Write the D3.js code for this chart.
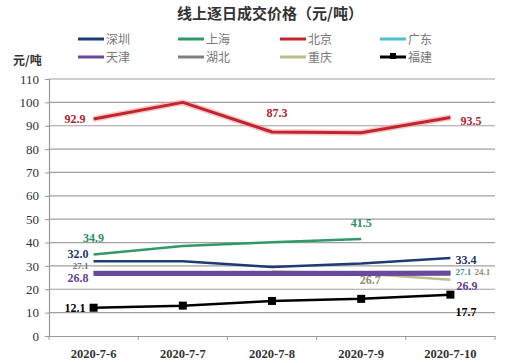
<!DOCTYPE html>
<html><head><meta charset="utf-8">
<script src="https://cdn.jsdelivr.net/npm/d3@7"></script>
<style>
html,body{margin:0;padding:0;background:#fff;}
svg{display:block;}
</style></head>
<body>
<svg id="c" width="509" height="363"></svg>
<script>
const categories = ["2020-7-6","2020-7-7","2020-7-8","2020-7-9","2020-7-10"];
const yTicks = [0,10,20,30,40,50,60,70,80,90,100,110];
const seriesNames = ["深圳","上海","北京","广东","天津","湖北","重庆","福建"];
const seriesColors = ["#1f3b73","#2f9a68","#c0262c","#4cc0cf","#6b479e","#7d7d86","#bdbd8a","#000000"];
const shenzhen = [32.0, 32.0, 29.5, 31.0, 33.4];
const shanghai = [34.9, 38.5, 40.1, 41.5, null];
const beijing  = [92.9, 100.0, 87.3, 87.0, 93.5];
const guangdong= [null, null, 26.3, 27.0, 27.1];
const tianjin  = [26.8, 26.8, 26.8, 26.8, 26.9];
const hubei    = [27.1, 27.1, 27.1, 27.1, 27.1];
const chongqing= [null, null, 27.6, 26.7, 24.1];
const fujian   = [12.1, 13.0, 15.0, 15.9, 17.7];
const seriesValues = [shenzhen, shanghai, beijing, guangdong, tianjin, hubei, chongqing, fujian];
const seriesWidths = [2.5, 2.5, 3, 2.5, 5, 4, 2.5, 2.5];
// value labels: [series index, category index, text, dx, dy, anchor, font size]
const valueLabels = [
  [2,0,"92.9",-8,4,"end",12],[2,2,"87.3",5,-15,"middle",12],[2,4,"93.5",10,7,"start",12],
  [1,0,"34.9",0,-12,"middle",12],[1,3,"41.5",0,-12,"middle",12],
  [0,0,"32.0",-5,-3,"end",12],[5,0,"27.1",-5,-4,"end",9],[4,0,"26.8",-5,9,"end",12],
  [0,4,"33.4",5,6,"start",12],[3,4,"27.1",5,2.5,"start",9],[6,4,"24.1",24,-4.5,"start",9],[4,4,"26.9",6,17,"start",12],
  [6,3,"26.7",9,10,"middle",12],
  [7,0,"12.1",-8,4,"end",12],[7,4,"17.7",5,21,"start",12]
];

const svg = d3.select("#c");
const mLeft=49, mRight=495, mTop=79, mBottom=336;
const x = d3.scaleBand().domain(categories).range([mLeft,mRight]);
const y = d3.scaleLinear().domain([0,110]).range([mBottom,mTop]);
const cx = c => x(c) + x.bandwidth()/2;
const serif = "'Liberation Serif','DejaVu Serif',serif";
const cjk = "'Noto Sans CJK SC',sans-serif";

// title
svg.append("text").attr("x",270).attr("y",19).attr("text-anchor","middle")
  .attr("font-family",cjk).attr("font-weight","bold").attr("font-size",15).attr("fill","#333")
  .text("线上逐日成交价格（元/吨）");
// unit
svg.append("text").attr("x",13).attr("y",65)
  .attr("font-family",cjk).attr("font-weight","bold").attr("font-size",12).attr("fill","#333")
  .text("元/吨");

// legend
const legCols=[78,178,280,380], legRows=[39,57];
seriesNames.forEach((n,i)=>{
  const lx=legCols[i%4], ly=legRows[Math.floor(i/4)];
  const g=svg.append("g");
  g.append("line").attr("x1",lx).attr("x2",lx+26).attr("y1",ly).attr("y2",ly)
   .attr("stroke",seriesColors[i]).attr("stroke-width",3);
  if(i===7) g.append("rect").attr("x",lx+10).attr("y",ly-4).attr("width",6).attr("height",6).attr("fill","#000");
  g.append("text").attr("x",lx+28).attr("y",ly+4.5).attr("font-family",cjk).attr("font-size",12).attr("fill","#777").text(n);
});

// gridlines
svg.append("g").selectAll("line").data(yTicks.filter(t=>t>0)).join("line")
  .attr("x1",mLeft).attr("x2",mRight).attr("y1",d=>y(d)).attr("y2",d=>y(d))
  .attr("stroke","#a0a0a0").attr("stroke-width",1.2);

// y axis
const ya = svg.append("g").attr("transform",`translate(${mLeft},0)`)
  .call(d3.axisLeft(y).tickValues(yTicks).tickSize(4).tickPadding(6));
ya.select(".domain").attr("stroke","#999").attr("stroke-width",1.2);
ya.selectAll(".tick line").attr("stroke","#999");
ya.selectAll("text").attr("font-family",serif).attr("font-size",13).attr("fill","#333");

// x axis
const xa = svg.append("g").attr("transform",`translate(0,${mBottom})`)
  .call(d3.axisBottom(x).tickSize(0).tickPadding(13));
xa.select(".domain").attr("stroke","#999").attr("stroke-width",1.2);
xa.selectAll("text").attr("font-family",serif).attr("font-size",12.5).attr("font-weight","bold").attr("fill","#333");
svg.append("g").selectAll("line").data(categories.concat(["end"])).join("line")
  .attr("x1",(d,i)=>mLeft+i*x.bandwidth()).attr("x2",(d,i)=>mLeft+i*x.bandwidth())
  .attr("y1",mBottom).attr("y2",mBottom+4).attr("stroke","#999");

// lines
const line = d3.line().defined(d=>d.v!=null).x(d=>cx(d.c)).y(d=>y(d.v));
const order=[6,3,5,4,0,1,2,7];
order.forEach(i=>{
  const data = categories.map((c,k)=>({c,v:seriesValues[i][k]}));
  if(i===2){
    svg.append("path").datum(data).attr("d",line).attr("fill","none")
      .attr("stroke","#f2a0a0").attr("stroke-width",6).attr("opacity",0.6);
  }
  svg.append("path").datum(data).attr("d",line).attr("fill","none")
    .attr("stroke",seriesColors[i]).attr("stroke-width",seriesWidths[i]).attr("stroke-linejoin","round");
  if(i===7){
    svg.append("g").selectAll("rect").data(data).join("rect")
      .attr("x",d=>cx(d.c)-4).attr("y",d=>y(d.v)-4).attr("width",8).attr("height",8).attr("fill","#000");
  }
});

// value labels
valueLabels.forEach(([si,ci,t,dx,dy,anc,fs])=>{
  svg.append("text").attr("x",cx(categories[ci])+dx).attr("y",y(seriesValues[si][ci])+dy)
    .attr("text-anchor",anc).attr("font-family",serif).attr("font-size",fs).attr("font-weight","bold")
    .attr("fill",d3.color(seriesColors[si]).darker(si===6||si===3?0.8:0.2)).text(t);
});
</script>
</body></html>
